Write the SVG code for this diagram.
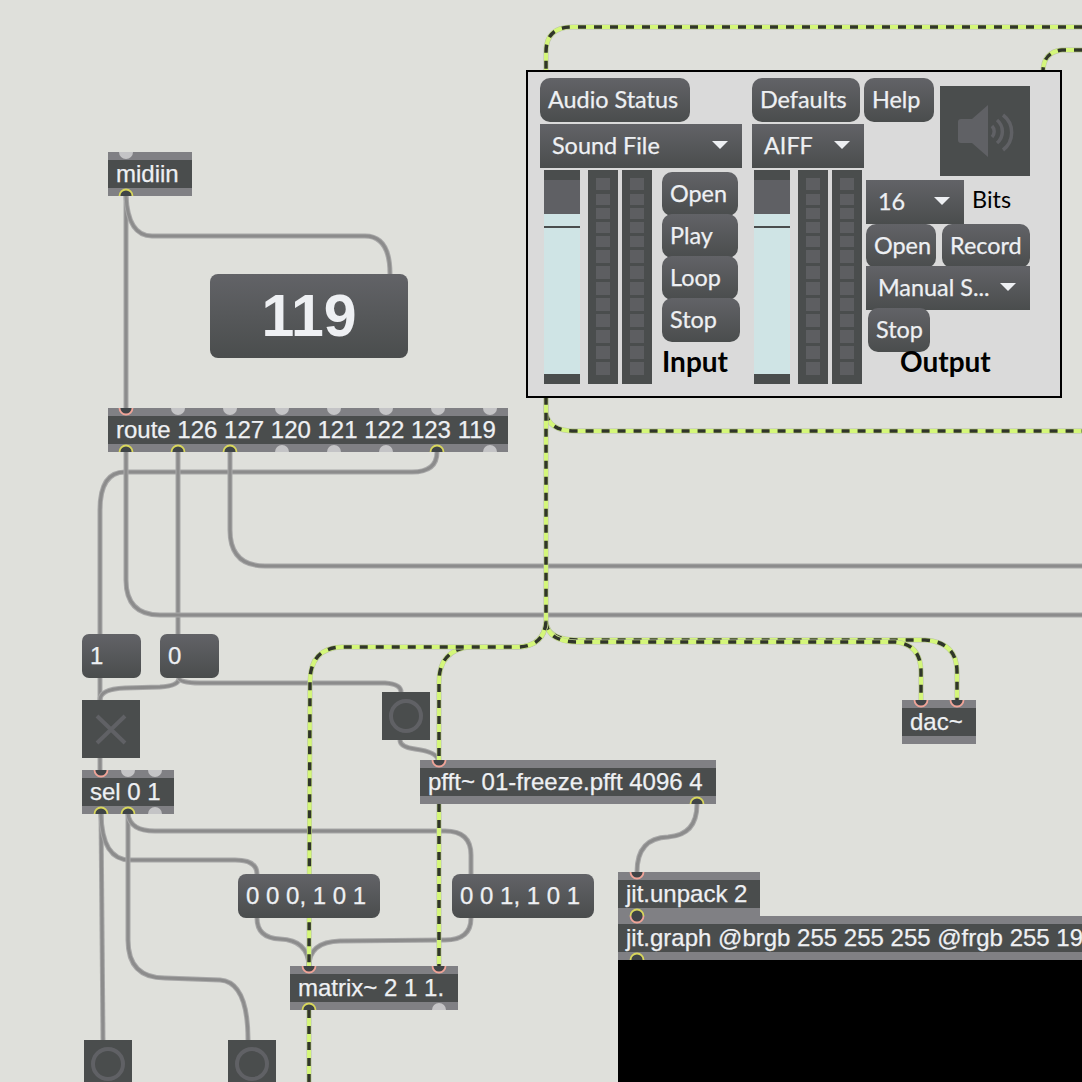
<svg xmlns="http://www.w3.org/2000/svg" width="1082" height="1082" viewBox="0 0 1082 1082">
<style>
.band{fill:#808084}
.body{fill:#4a4d4d}
.t{font-family:"Liberation Sans",Arial,sans-serif;font-size:24px;fill:#eef0f3;stroke:#eef0f3;stroke-width:.25}
.l{font-family:Lato,"Open Sans",sans-serif;font-size:23.4px;fill:#eef0f3;stroke:#eef0f3;stroke-width:.25}
.h{font-family:Lato,"Open Sans",sans-serif;font-size:28px;font-weight:700;fill:#000}
.btn{fill:url(#g)}
.flat{fill:url(#g)}
.po{fill:none;stroke:#a8a8a8;stroke-width:5}
.pi{fill:none;stroke:#8c8c8c;stroke-width:3}
.so{fill:none;stroke:#b9c2a6;stroke-width:5}
.sg{fill:none;stroke:#d4f67a;stroke-width:4}
.sd{fill:none;stroke:#30352a;stroke-width:3.5;stroke-dasharray:8 8}
.dark{fill:#4a4d4d}
.led{fill:#5d5e61}
.track{fill:#cfe4e5}
.knob{fill:#5f6064}
.ar{fill:#eef0f3}
.ico{fill:none;stroke:#606165;stroke-width:4}
</style>
<defs>
<linearGradient id="g" x1="0" y1="0" x2="0" y2="1"><stop offset="0" stop-color="#626367"/><stop offset="1" stop-color="#4a4d4d"/></linearGradient>
<g id="in"><path d="M-6.5,0A6.5,6.5 0 0 0 6.5,0" fill="#3f4447" stroke="#f0a498" stroke-width="1.8"/></g>
<g id="out"><path d="M-6.5,0A6.5,6.5 0 0 1 6.5,0" fill="#3f4447" stroke="#d9d75c" stroke-width="1.8"/></g>
<g id="gi"><path d="M-7,0A7,7 0 0 0 7,0Z" fill="#c4c4c6"/></g>
<g id="go"><path d="M-7,0A7,7 0 0 1 7,0Z" fill="#c4c4c6"/></g>
<g id="meter"><rect width="30" height="214" class="dark"/><g class="led"><rect x="8" y="8" width="14" height="12"/><rect x="8" y="24" width="14" height="11"/><rect x="8" y="38" width="14" height="11"/><rect x="8" y="52" width="14" height="11"/><rect x="8" y="66" width="14" height="11"/><rect x="8" y="80" width="14" height="13"/><rect x="8" y="96" width="14" height="13"/><rect x="8" y="112" width="14" height="13"/><rect x="8" y="128" width="14" height="13"/><rect x="8" y="144" width="14" height="13"/><rect x="8" y="160" width="14" height="13"/><rect x="8" y="176" width="14" height="13"/><rect x="8" y="192" width="14" height="13"/></g></g>
<g id="slider"><rect width="36" height="10" class="dark"/><rect y="10" width="36" height="34" class="knob"/><rect y="44" width="36" height="160" class="track"/><rect y="56" width="36" height="2" class="dark"/><rect y="204" width="36" height="10" class="dark"/></g>
<path id="arrow" d="M-8,-4H8L0,4Z"/>
<path id="s1" d="M1082,27L572,27Q546,27 546,52L546,622"/>
<path id="s2" d="M546,397L546,412Q548,431 575,431L1082,431"/>
<path id="s3" d="M546,622Q548,642 578,642L895,642Q921,644 921,672L921,700"/>
<path id="s4" d="M546,622Q548,640 578,640L925,640Q957,642 957,672L957,700"/>
<path id="s5" d="M546,622Q544,646 518,647L342,647Q310,648 310,682L309,966"/>
<path id="s6" d="M546,622Q544,646 518,647L470,647Q439,650 439,682L439,760"/>
<path id="s7" d="M439,804L439,966"/>
<path id="s8" d="M309,1010L309,1082"/>
<path id="s9" d="M1082,50L1062,50Q1043,52 1043,72"/>
</defs>
<rect width="1082" height="1082" fill="#dfe0db"/>
<g id="connectors">
<path class="po" d="M126,196L126,408"/><path class="pi" d="M126,196L126,408"/>
<path class="po" d="M126,196Q128,236 152,236L365,236Q390,236 390,274"/><path class="pi" d="M126,196Q128,236 152,236L365,236Q390,236 390,274"/>
<path class="po" d="M437,452Q437,472 412,472L125,472Q100,472 100,510L100,634"/><path class="pi" d="M437,452Q437,472 412,472L125,472Q100,472 100,510L100,634"/>
<path class="po" d="M178,452L178,634"/><path class="pi" d="M178,452L178,634"/>
<path class="po" d="M230,452L230,530Q230,566 265,566L1082,566"/><path class="pi" d="M230,452L230,530Q230,566 265,566L1082,566"/>
<path class="po" d="M126,452L126,580Q126,615 160,615L1082,615"/><path class="pi" d="M126,452L126,580Q126,615 160,615L1082,615"/>
<path class="po" d="M100,678L100,700M100,758L100,770"/><path class="pi" d="M100,678L100,700M100,758L100,770"/>
<path class="po" d="M179,678Q179,686 160,687L125,688Q100,689 100,700"/><path class="pi" d="M179,678Q179,686 160,687L125,688Q100,689 100,700"/>
<path class="po" d="M179,678Q180,683 200,683L385,683Q401,684 401,692"/><path class="pi" d="M179,678Q180,683 200,683L385,683Q401,684 401,692"/>
<path class="po" d="M400,740Q400,747 415,749Q437,752 438,760"/><path class="pi" d="M400,740Q400,747 415,749Q437,752 438,760"/>
<path class="po" d="M697,804Q697,835 668,837Q637,838 637,872"/><path class="pi" d="M697,804Q697,835 668,837Q637,838 637,872"/>
<path class="po" d="M101,814L103,1040"/><path class="pi" d="M101,814L103,1040"/>
<path class="po" d="M101,814Q102,860 130,860L235,860Q257,860 257,874"/><path class="pi" d="M101,814Q102,860 130,860L235,860Q257,860 257,874"/>
<path class="po" d="M128,814L128,940Q128,978 165,978L220,980Q248,982 248,1040"/><path class="pi" d="M128,814L128,940Q128,978 165,978L220,980Q248,982 248,1040"/>
<path class="po" d="M128,814Q130,831 155,831L445,831Q471,831 471,855L471,874"/><path class="pi" d="M128,814Q130,831 155,831L445,831Q471,831 471,855L471,874"/>
<path class="po" d="M257,918Q257,938 280,939Q308,940 309,966"/><path class="pi" d="M257,918Q257,938 280,939Q308,940 309,966"/>
<path class="po" d="M471,918Q471,940 445,940L340,941Q309,942 309,966"/><path class="pi" d="M471,918Q471,940 445,940L340,941Q309,942 309,966"/>
<use class="so" href="#s2"/><use class="sg" href="#s2"/><use class="sd" href="#s2"/>
<use class="so" href="#s1"/><use class="sg" href="#s1"/><use class="sd" href="#s1"/>
<use class="so" href="#s4"/><use class="sg" href="#s4"/><use class="sd" href="#s4"/>
<use class="so" href="#s3"/><use class="sg" href="#s3"/><use class="sd" href="#s3"/>
<use class="so" href="#s6"/><use class="sg" href="#s6"/><use class="sd" href="#s6"/>
<use class="so" href="#s5"/><use class="sg" href="#s5"/><use class="sd" href="#s5"/>
<use class="so" href="#s7"/><use class="sg" href="#s7"/><use class="sd" href="#s7"/>
<use class="so" href="#s8"/><use class="sg" href="#s8"/><use class="sd" href="#s8"/>
<use class="so" href="#s9"/><use class="sg" href="#s9"/><use class="sd" href="#s9"/>
</g>
<g id="midiin"><rect class="band" x="108" y="152" width="84" height="44"/><rect class="body" x="108" y="160" width="84" height="28"/><use href="#gi" x="126" y="152"/><use href="#out" x="126" y="196"/><text class="t" x="116" y="182">midiin</text></g>
<g id="number"><rect x="210" y="274" width="198" height="84" rx="8" fill="url(#g)"/><text x="309" y="336" text-anchor="middle" font-family="Liberation Sans,Arial,sans-serif" font-size="59" font-weight="700" fill="#eef0f3">119</text></g>
<g id="route"><rect class="band" x="108" y="408" width="400" height="44"/><rect class="body" x="108" y="416" width="400" height="28"/>
<use href="#in" x="126" y="408"/><use href="#gi" x="178" y="408"/><use href="#gi" x="230" y="408"/><use href="#gi" x="282" y="408"/><use href="#gi" x="334" y="408"/><use href="#gi" x="386" y="408"/><use href="#gi" x="438" y="408"/><use href="#gi" x="490" y="408"/>
<use href="#out" x="126" y="452"/><use href="#out" x="178" y="452"/><use href="#out" x="230" y="452"/><use href="#go" x="282" y="452"/><use href="#go" x="334" y="452"/><use href="#go" x="386" y="452"/><use href="#out" x="437" y="452"/><use href="#go" x="490" y="452"/>
<text class="t" x="116" y="438">route 126 127 120 121 122 123 119</text></g>
<g id="msg1"><rect class="btn" x="82" y="634" width="59" height="44" rx="7"/><text class="t" x="90" y="664">1</text></g>
<g id="msg0"><rect class="btn" x="160" y="634" width="59" height="44" rx="7"/><text class="t" x="168" y="664">0</text></g>
<g id="toggle"><rect class="dark" x="82" y="700" width="58" height="58"/><path d="M97,716L125,743M125,716L97,743" fill="none" stroke="#606165" stroke-width="4"/></g>
<g id="sel"><rect class="band" x="82" y="770" width="92" height="44"/><rect class="body" x="82" y="778" width="92" height="28"/><use href="#in" x="101" y="770"/><use href="#gi" x="128" y="770"/><use href="#gi" x="155" y="770"/><use href="#out" x="101" y="814"/><use href="#out" x="128" y="814"/><use href="#go" x="155" y="814"/><text class="t" x="90" y="800">sel 0 1</text></g>
<g id="btn1"><rect class="dark" x="382" y="692" width="48" height="48"/><circle class="ico" cx="406" cy="716" r="15"/></g>
<g id="pfft"><rect class="band" x="420" y="760" width="296" height="44"/><rect class="body" x="420" y="768" width="296" height="28"/><use href="#in" x="439" y="760"/><use href="#out" x="697" y="804"/><text class="t" x="428" y="790">pfft~ 01-freeze.pfft 4096 4</text></g>
<g id="dac"><rect class="band" x="902" y="700" width="74" height="44"/><rect class="body" x="902" y="708" width="74" height="28"/><use href="#in" x="921" y="700"/><use href="#in" x="957" y="700"/><text class="t" x="910" y="730">dac~</text></g>
<g id="msg000"><rect class="btn" x="238" y="874" width="142" height="44" rx="8"/><text class="t" x="246" y="904">0 0 0, 1 0 1</text></g>
<g id="msg001"><rect class="btn" x="452" y="874" width="142" height="44" rx="8"/><text class="t" x="460" y="904">0 0 1, 1 0 1</text></g>
<g id="matrix"><rect class="band" x="290" y="966" width="168" height="44"/><rect class="body" x="290" y="974" width="168" height="28"/><use href="#in" x="309" y="966"/><use href="#in" x="439" y="966"/><use href="#out" x="309" y="1010"/><use href="#go" x="439" y="1010"/><text class="t" x="298" y="996">matrix~ 2 1 1.</text></g>
<g id="btn2"><rect class="dark" x="84" y="1040" width="48" height="48"/><circle class="ico" cx="108" cy="1064" r="15"/></g>
<g id="btn3"><rect class="dark" x="228" y="1040" width="48" height="48"/><circle class="ico" cx="252" cy="1064" r="15"/></g>
<g id="jitgraph"><rect x="618" y="960" width="464" height="122" fill="#000"/><rect class="band" x="618" y="916" width="464" height="44"/><rect class="body" x="618" y="924" width="464" height="28"/><use href="#out" x="637" y="960"/><text class="t" x="626" y="946">jit.graph @brgb 255 255 255 @frgb 255 19</text></g>
<g id="jitunpack"><rect class="band" x="618" y="872" width="142" height="44"/><rect class="body" x="618" y="880" width="142" height="28"/><use href="#in" x="637" y="872"/><use href="#out" x="637" y="916"/><use href="#in" x="637" y="916"/><text class="t" x="626" y="902">jit.unpack 2</text></g>
<g id="panel"><rect x="527" y="71" width="534" height="326" fill="#dadada" stroke="#000" stroke-width="2"/>
<rect class="btn" x="540" y="78" width="150" height="44" rx="10"/><text class="l" x="548" y="108">Audio Status</text>
<rect class="flat" x="540" y="124" width="202" height="44"/><text class="l" x="552" y="154">Sound File</text><use class="ar" href="#arrow" x="720" y="145"/>
<use href="#slider" x="544" y="170"/><use href="#meter" x="588" y="170"/><use href="#meter" x="622" y="170"/>
<rect class="btn" x="662" y="172" width="76" height="44" rx="10"/><text class="l" x="670" y="202">Open</text>
<rect class="btn" x="662" y="214" width="76" height="44" rx="10"/><text class="l" x="670" y="244">Play</text>
<rect class="btn" x="662" y="256" width="76" height="44" rx="10"/><text class="l" x="670" y="286">Loop</text>
<rect class="btn" x="662" y="298" width="78" height="44" rx="10"/><text class="l" x="670" y="328">Stop</text>
<text class="h" x="662" y="372">Input</text>
<rect class="btn" x="752" y="78" width="108" height="44" rx="10"/><text class="l" x="760" y="108">Defaults</text>
<rect class="btn" x="864" y="78" width="70" height="44" rx="10"/><text class="l" x="872" y="108">Help</text>
<rect class="flat" x="752" y="124" width="112" height="44"/><text class="l" x="764" y="154">AIFF</text><use class="ar" href="#arrow" x="842" y="145"/>
<use href="#slider" x="754" y="170"/><use href="#meter" x="798" y="170"/><use href="#meter" x="832" y="170"/>
<rect class="dark" x="940" y="86" width="90" height="90"/><path d="M958,122Q958,119 961,119L972,119L988,105L988,157L972,143L961,143Q958,143 958,140Z" fill="#606165"/><path d="M992,126A8,8 0 0 1 992,137M997,120A15,15 0 0 1 997,143M1003,115A22,22 0 0 1 1003,150" fill="none" stroke="#606165" stroke-width="3.5"/>
<rect class="flat" x="866" y="180" width="98" height="44"/><text class="l" x="878" y="210">16</text><use class="ar" href="#arrow" x="942" y="201"/>
<text font-family="Lato,Open Sans,sans-serif" font-size="23.4" fill="#000" x="972" y="208">Bits</text>
<rect class="btn" x="866" y="224" width="70" height="44" rx="10"/><text class="l" x="874" y="254">Open</text>
<rect class="btn" x="942" y="224" width="88" height="44" rx="10"/><text class="l" x="950" y="254">Record</text>
<rect class="flat" x="866" y="266" width="164" height="44"/><text class="l" x="878" y="296">Manual S...</text><use class="ar" href="#arrow" x="1008" y="287"/>
<rect class="btn" x="868" y="308" width="62" height="44" rx="10"/><text class="l" x="876" y="338">Stop</text>
<text class="h" x="900" y="372">Output</text></g>
</svg>
